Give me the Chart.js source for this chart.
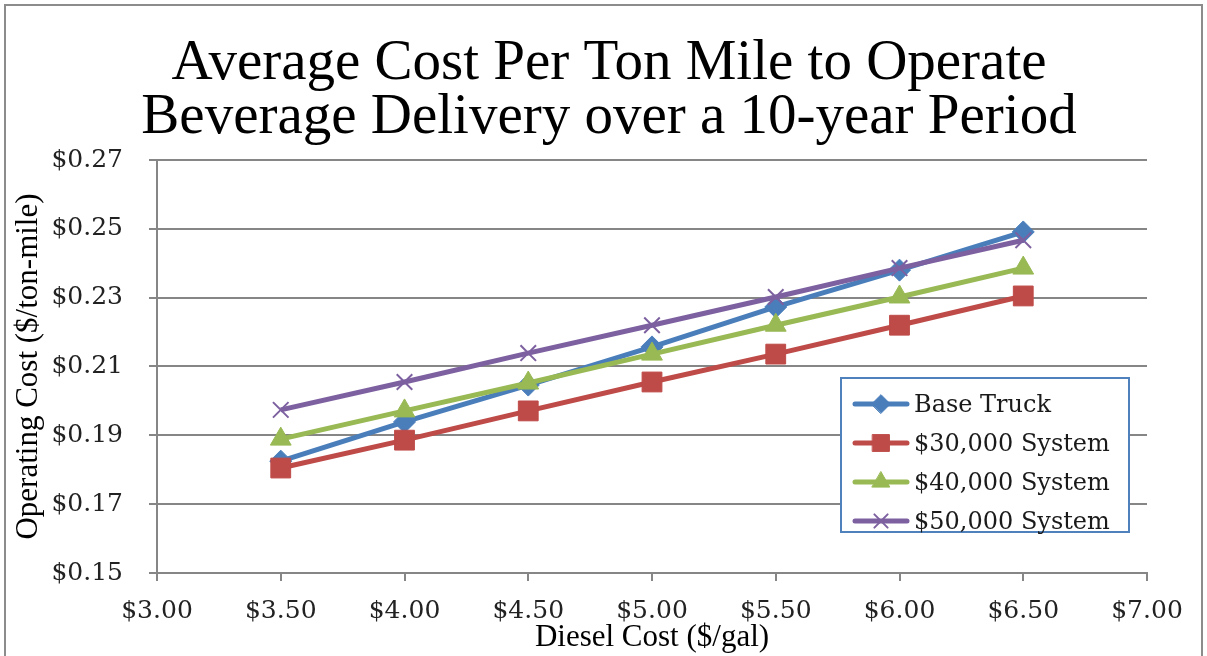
<!DOCTYPE html>
<html>
<head>
<meta charset="utf-8">
<script src="https://cdn.jsdelivr.net/npm/chart.js@4.4.0/dist/chart.umd.min.js"></script>
<style>
    body { margin: 0; background: #fff; }
    #wrap { position: relative; width: 1207px; height: 656px; overflow: hidden; }
    #frame { position: absolute; left: 4px; top: 4px; width: 1195px; height: 660px; border: 2px solid #8c8c8c; pointer-events: none; }
    #legend { position: absolute; left: 840px; top: 377px; width: 286px; height: 152px; border: 2px solid #4f81bd; background: #fff; }
    .item { position: absolute; left: 10px; height: 39px; display: flex; align-items: center; font-family: "DejaVu Serif", serif; font-size: 24px; color: #1a1a1a; }
    .item canvas { margin-right: 4px; }
</style>
</head>
<body>
<div id="wrap">
    <canvas id="costChart" width="1207" height="656"></canvas>
    <div id="legend"></div>
    <div id="frame"></div>
</div>
<script>
var dieselPrices = [3.5, 4.0, 4.5, 5.0, 5.5, 6.0, 6.5];
var seriesNames = ['Base Truck', '$30,000 System', '$40,000 System', '$50,000 System'];
var baseTruck = [0.1825, 0.1939, 0.2046, 0.2157, 0.2273, 0.2380, 0.2491];
var system30k = [0.1805, 0.1886, 0.1971, 0.2055, 0.2136, 0.2220, 0.2305];
var system40k = [0.1889, 0.1971, 0.2052, 0.2136, 0.2220, 0.2302, 0.2386];
var system50k = [0.1974, 0.2055, 0.2139, 0.2220, 0.2302, 0.2386, 0.2467];
var titleLines = ['Average Cost Per Ton Mile to Operate', 'Beverage Delivery over a 10-year Period'];

var colors = ['#4a7ebb', '#be4b48', '#98b954', '#7d60a0'];
var markers = ['rectRot', 'rect', 'triangle', 'crossRot'];
var markerSize = [11, 14, 12, 11];
var allValues = [baseTruck, system30k, system40k, system50k];

function toPoints(values) {
    return values.map(function (v, i) { return { x: dieselPrices[i], y: v }; });
}

var datasets = allValues.map(function (vals, i) {
    return {
        label: seriesNames[i],
        data: toPoints(vals),
        borderColor: colors[i],
        backgroundColor: colors[i],
        borderWidth: 5,
        pointStyle: markers[i],
        pointRadius: markerSize[i],
        pointBorderWidth: markers[i] === 'crossRot' ? 2 : 1,
        pointBorderColor: colors[i],
        pointBackgroundColor: colors[i],
        order: 4 - i, // later series on top, like the original
        tension: 0
    };
});

// title is centred on the whole picture, not on the plot, so draw it here
var titlePlugin = {
    id: 'bigTitle',
    afterDraw: function (chart) {
        var g = chart.ctx;
        g.save();
        g.fillStyle = '#000';
        g.font = '57px "Liberation Serif"';
        g.textAlign = 'center';
        g.textBaseline = 'alphabetic';
        g.fillText(titleLines[0], 609, 79);
        g.fillText(titleLines[1], 609, 133);
        g.restore();
    }
};

var ctx = document.getElementById('costChart').getContext('2d');
var costChart = new Chart(ctx, {
    type: 'line',
    data: { datasets: datasets },
    plugins: [titlePlugin],
    options: {
        responsive: false,
        animation: false,
        devicePixelRatio: 1,
        layout: { padding: { left: 10, right: 60, top: 160, bottom: 0 } },
        plugins: {
            legend: { display: false },
            tooltip: { enabled: false },
            title: { display: false }
        },
        scales: {
            x: {
                type: 'linear',
                min: 3, max: 7,
                afterFit: function (s) { s.height = 83; },
                ticks: {
                    stepSize: 0.5,
                    color: '#222',
                    font: { family: 'DejaVu Serif', size: 25 },
                    padding: 15,
                    callback: function (v) { return '$' + Number(v).toFixed(2); }
                },
                grid: { drawOnChartArea: false, drawTicks: true, tickLength: 8, color: '#868686', lineWidth: 2 },
                border: { color: '#868686', width: 2 },
                title: {
                    display: true,
                    text: 'Diesel Cost ($/gal)',
                    color: '#000',
                    font: { family: 'Liberation Serif', size: 31 },
                    padding: 0
                }
            },
            y: {
                min: 0.15, max: 0.27,
                afterFit: function (s) { s.width = 147; },
                ticks: {
                    stepSize: 0.02,
                    color: '#222',
                    font: { family: 'DejaVu Serif', size: 25 },
                    padding: 26,
                    callback: function (v) { return '$' + Number(v).toFixed(2); }
                },
                grid: { color: '#868686', lineWidth: 2, tickLength: 8 },
                border: { color: '#868686', width: 2 },
                title: {
                    display: true,
                    text: 'Operating Cost ($/ton-mile)',
                    color: '#000',
                    font: { family: 'Liberation Serif', size: 31 },
                    padding: 0
                }
            }
        }
    }
});

// legend with line + marker icons
function drawIcon(c, i) {
    var g = c.getContext('2d');
    var cy = c.height / 2, cx = c.width / 2;
    g.strokeStyle = colors[i];
    g.lineWidth = 5;
    g.lineCap = 'round';
    g.beginPath(); g.moveTo(3, cy); g.lineTo(c.width - 3, cy); g.stroke();
    g.fillStyle = colors[i];
    g.lineWidth = markers[i] === 'crossRot' ? 2 : 1;
    Chart.helpers.drawPoint(g, {
        pointStyle: markers[i],
        radius: markerSize[i] * 0.85,
        borderWidth: markers[i] === 'crossRot' ? 2 : 1,
        rotation: 0
    }, cx, cy);
}

var legend = document.getElementById('legend');
seriesNames.forEach(function (name, i) {
    var row = document.createElement('div');
    row.className = 'item';
    row.style.top = (5 + i * 39) + 'px';
    var icon = document.createElement('canvas');
    icon.width = 58; icon.height = 26;
    row.appendChild(icon);
    var label = document.createElement('span');
    label.textContent = name;
    row.appendChild(label);
    legend.appendChild(row);
    drawIcon(icon, i);
});
</script>
</body>
</html>
